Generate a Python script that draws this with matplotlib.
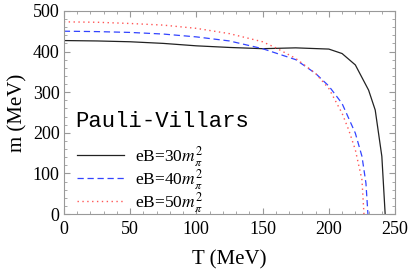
import matplotlib
matplotlib.use("Agg")
import matplotlib.pyplot as plt
from matplotlib.ticker import MultipleLocator

plt.rcParams["font.family"] = "Liberation Serif"
plt.rcParams["mathtext.fontset"] = "stix"

# values
T_30 = [0, 25, 50, 75, 100, 125, 150, 175, 200, 210, 220, 230, 235, 240, 242.5]
m_30 = [427, 426, 424, 420, 414, 410, 407, 409, 406, 395, 367, 305, 256, 142, 0]

T_40 = [0, 25, 50, 75, 100, 125, 150, 175, 190, 200, 210, 220, 225, 228, 229.5]
m_40 = [450, 449, 447, 443, 436, 426, 407, 380, 346, 315, 272, 199, 142, 76, 0]

T_50 = [0, 25, 50, 75, 100, 125, 150, 160, 175, 190, 200, 210, 215, 220, 225, 226.5]
m_50 = [473, 472, 469, 465, 457, 444, 424, 409, 383, 346, 309, 248, 207, 158, 84, 0]

labels = [r"eB=30$m_\pi^2$", r"eB=40$m_\pi^2$", r"eB=50$m_\pi^2$"]

fig = plt.figure(figsize=(4.09, 2.72), dpi=100)
ax = fig.add_axes([0.156, 0.213, 0.81, 0.747])

ax.plot(T_30, m_30, color="#222222", lw=0.9, label=labels[0])
ax.plot(T_40, m_40, color="#3344ff", lw=0.9, dashes=(5, 3), label=labels[1])
ax.plot(T_50, m_50, color="#ff5555", lw=1.0, dashes=(1, 2.5), label=labels[2])

ax.set_xlim(0, 250)
ax.set_ylim(0, 500)
ax.xaxis.set_major_locator(MultipleLocator(50))
ax.xaxis.set_minor_locator(MultipleLocator(10))
ax.yaxis.set_major_locator(MultipleLocator(100))
ax.yaxis.set_minor_locator(MultipleLocator(20))
ax.tick_params(which="both", direction="in", top=True, right=True, color="#999999", labelsize=13)
ax.tick_params(axis="x", pad=5)
ax.tick_params(axis="y", pad=3)
ax.tick_params(which="major", length=4)
ax.tick_params(which="minor", length=2)
for s in ax.spines.values():
    s.set_color("#999999")

ax.set_xlabel("T (MeV)", fontsize=15, labelpad=9)
ax.set_ylabel("m (MeV)", fontsize=15, labelpad=4)

ax.text(0.036, 0.458, "Pauli-Villars", transform=ax.transAxes, family="Liberation Mono",
        fontsize=16, va="center", ha="left")
ax.legend(loc="upper left", bbox_to_anchor=(0.02, 0.38), frameon=False, fontsize=12.5,
          handlelength=2.7, handletextpad=0.6, labelspacing=-0.1, borderaxespad=0)

fig.savefig("out.png", dpi=100)
